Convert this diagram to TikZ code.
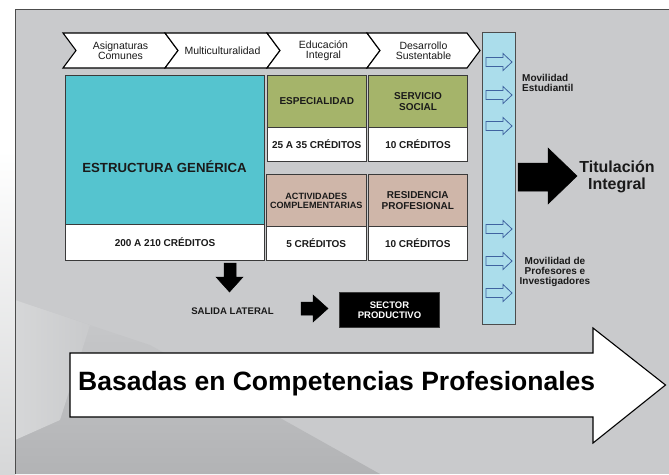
\documentclass[tikz,border=0pt]{standalone}
\usepackage{fontspec}
\setmainfont{Liberation Sans}
\definecolor{bggray}{HTML}{C9CACC}
\definecolor{bgdark}{HTML}{B2B3B5}
\definecolor{bglight}{HTML}{D6D7D8}
\definecolor{tealbox}{HTML}{55C4CF}
\definecolor{greenbox}{HTML}{A5B46A}
\definecolor{tanbox}{HTML}{CFB6A9}
\definecolor{barblue}{HTML}{ABDDEB}
\definecolor{arrowblue}{HTML}{3F63A0}
\definecolor{boxline}{HTML}{3A3A3A}
\definecolor{txt}{HTML}{1A1A1A}
\tikzset{
  box/.style={draw=boxline, line width=1pt, inner sep=1pt, align=center, anchor=north west, text=txt,
    font=\bfseries\fontsize{10}{10.5}\selectfont},
  chevshape/.style={draw=black, fill=white, line width=1.1pt, line join=miter},
  chevtext/.style={align=center, text=txt, font=\fontsize{10.5}{10}\selectfont, inner sep=0pt},
  lbl/.style={align=center, text=txt, font=\bfseries\fontsize{10}{10}\selectfont, inner sep=0pt},
  hollowarrow/.style={draw=arrowblue, fill=barblue, line width=0.8pt, line join=miter},
  blockarrow/.style={fill=black, draw=black, line width=0.5pt},
}
\begin{document}
\begin{tikzpicture}[x=1pt,y=-1pt]
\useasboundingbox (0,0) rectangle (669,474);
% background
\fill[white] (0,0) rectangle (669,474);
\shade[top color=white, bottom color=bglight] (0,150) rectangle (15,474);
\fill[bggray] (15,9) rectangle (669,474);
\shade[top color=bggray, bottom color=bgdark] (15,300) -- (150,345) -- (380,474) -- (15,474) -- cycle;
\shade[left color=bglight, right color=bggray] (15,300) -- (90,325) -- (60,420) -- (15,440) -- cycle;
\draw[gray!60!black, line width=0.8pt] (15,474) -- (15,9) -- (669,9);

% chevrons
\foreach \L/\R/\t [count=\i] in {63/178/{Asignaturas\\Comunes}, 165/280/{Multiculturalidad}, 267/380/{Educación\\Integral}, 367/480/{Desarrollo\\Sustentable}}{
  \draw[chevshape] (\L,33) -- (\R-13,33) -- (\R,50.5) -- (\R-13,68) -- (\L,68) -- (\L+13,50.5) -- cycle;
  \node[chevtext] (chev\i) at ({(\L+\R)/2},50.5) {\t};
}

% main boxes
\node[box, fill=tealbox, minimum width=199pt, minimum height=149pt] (eg) at (65,75) {};
\node[lbl, font=\bfseries\fontsize{13.2}{14}\selectfont] (egt) at (164.5,167) {ESTRUCTURA GENÉRICA};
\node[box, fill=white, minimum width=199pt, minimum height=36pt] (egc) at (65,224) {200 A 210 CRÉDITOS};

\node[box, fill=greenbox, minimum width=99.5pt, minimum height=52pt] (esp) at (266.5,75) {ESPECIALIDAD};
\node[box, fill=white, minimum width=99.5pt, minimum height=34pt] (espc) at (266.5,127) {25 A 35 CRÉDITOS};
\node[box, fill=greenbox, minimum width=99pt, minimum height=52pt] (ss) at (368,75) {SERVICIO\\SOCIAL};
\node[box, fill=white, minimum width=99pt, minimum height=34pt] (ssc) at (368,127) {10 CRÉDITOS};

\node[box, fill=tanbox, minimum width=99.5pt, minimum height=52pt, inner sep=0pt,
      font=\bfseries\fontsize{9.1}{8.8}\selectfont] (act) at (266,174) {ACTIVIDADES\\COMPLEMENTARIAS};
\node[box, fill=white, minimum width=99.5pt, minimum height=34pt] (actc) at (266,226) {5 CRÉDITOS};
\node[box, fill=tanbox, minimum width=99.5pt, minimum height=52pt] (res) at (367.5,174) {RESIDENCIA\\PROFESIONAL};
\node[box, fill=white, minimum width=99.5pt, minimum height=34pt] (resc) at (367.5,226) {10 CRÉDITOS};

% vertical bar
\node[draw=gray!60!black, fill=barblue, line width=1pt, minimum width=33pt, minimum height=292pt, anchor=north west, inner sep=0pt] (bar) at (482,32) {};
\foreach \y in {62,95,126,229,261,293}{
  \draw[hollowarrow] (486,\y-4.5) -- (503,\y-4.5) -- (503,\y-8.5) -- (512,\y) -- (503,\y+8.5) -- (503,\y+4.5) -- (486,\y+4.5) -- cycle;
}
\node[lbl, align=left, anchor=west] (mest) at (522,83) {Movilidad\\Estudiantil};
\node[lbl] (mprof) at (555,272) {Movilidad de\\Profesores e\\Investigadores};

% titulacion arrow
\fill[blockarrow] (518,163) -- (548,163) -- (548,148) -- (577,176) -- (548,204) -- (548,191) -- (518,191) -- cycle;
\node[lbl, font=\bfseries\fontsize{16}{17}\selectfont] (tit) at (617,176.5) {Titulación\\Integral};

% salida lateral
\fill[blockarrow] (224,263) -- (236,263) -- (236,277) -- (243,277) -- (229.5,292) -- (216,277) -- (224,277) -- cycle;
\node[lbl, font=\bfseries\fontsize{9.6}{9.6}\selectfont] (sal) at (232.5,311) {SALIDA LATERAL};
\fill[blockarrow] (301,302) -- (313,302) -- (313,295) -- (328,308.5) -- (313,322) -- (313,315) -- (301,315) -- cycle;
\node[draw=boxline, fill=black, line width=1pt, minimum width=100pt, minimum height=35pt, anchor=north west, inner sep=0pt,
      text=white, align=center, font=\bfseries\fontsize{9.5}{10.5}\selectfont] (sec) at (339,292) {SECTOR\\PRODUCTIVO};

% big arrow
\draw[fill=white, draw=black, line width=1.1pt, line join=miter] (70,353) -- (593,353) -- (593,328) -- (665.5,385) -- (593,443) -- (593,417) -- (70,417) -- cycle;
\node[lbl, anchor=west, font=\bfseries\fontsize{26.5}{28}\selectfont, text=black] (comp) at (78,384) {Basadas en Competencias Profesionales};
\end{tikzpicture}
\end{document}
